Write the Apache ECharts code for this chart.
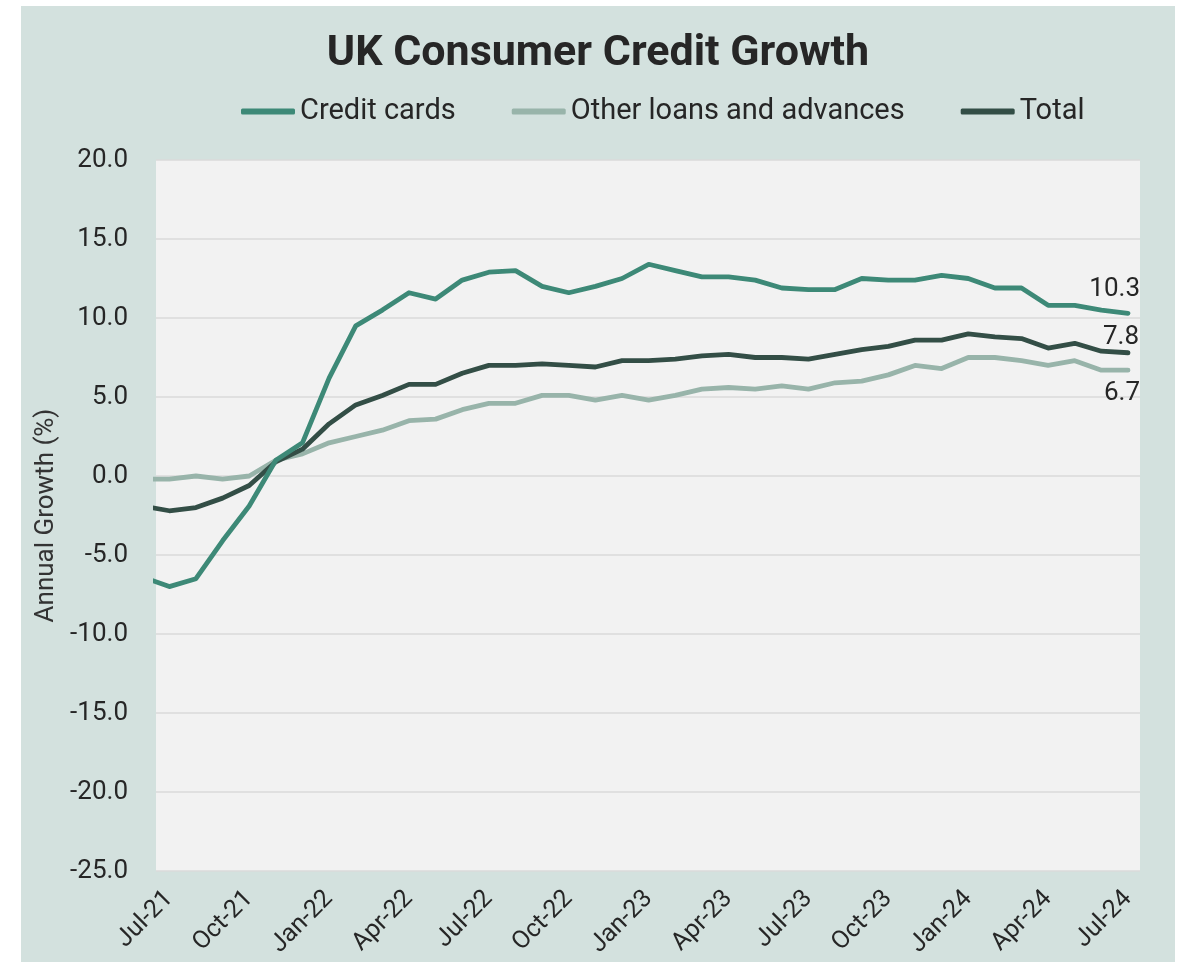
<!DOCTYPE html>
<html>
<head>
<meta charset="utf-8">
<style>
  html, body { margin: 0; padding: 0; background: #ffffff; }
  #panel { position: absolute; left: 21px; top: 6px; width: 1154px; height: 956px; background: #d3e1de; }
  #chart { position: absolute; left: 0; top: 0; width: 1154px; height: 956px; }
</style>
<script src="https://cdn.jsdelivr.net/npm/echarts@6/dist/echarts.min.js"></script>
</head>
<body>
<div id="panel"><div id="chart"></div></div>
<script>
// Monthly annual growth rates (%), Jun-21 to Jul-24
const months = [
  'Jun-21','Jul-21','Aug-21','Sep-21','Oct-21','Nov-21','Dec-21',
  'Jan-22','Feb-22','Mar-22','Apr-22','May-22','Jun-22','Jul-22','Aug-22','Sep-22','Oct-22','Nov-22','Dec-22',
  'Jan-23','Feb-23','Mar-23','Apr-23','May-23','Jun-23','Jul-23','Aug-23','Sep-23','Oct-23','Nov-23','Dec-23',
  'Jan-24','Feb-24','Mar-24','Apr-24','May-24','Jun-24','Jul-24'
];
const creditCards = [
  -6.4, -7.0, -6.5, -4.1, -1.9, 1.0, 2.1,
  6.2, 9.5, 10.5, 11.6, 11.2, 12.4, 12.9, 13.0, 12.0, 11.6, 12.0, 12.5,
  13.4, 13.0, 12.6, 12.6, 12.4, 11.9, 11.8, 11.8, 12.5, 12.4, 12.4, 12.7,
  12.5, 11.9, 11.9, 10.8, 10.8, 10.5, 10.3
];
const otherLoans = [
  -0.2, -0.2, 0.0, -0.2, 0.0, 1.0, 1.4,
  2.1, 2.5, 2.9, 3.5, 3.6, 4.2, 4.6, 4.6, 5.1, 5.1, 4.8, 5.1,
  4.8, 5.1, 5.5, 5.6, 5.5, 5.7, 5.5, 5.9, 6.0, 6.4, 7.0, 6.8,
  7.5, 7.5, 7.3, 7.0, 7.3, 6.7, 6.7
];
const total = [
  -1.9, -2.2, -2.0, -1.4, -0.6, 0.9, 1.7,
  3.3, 4.5, 5.1, 5.8, 5.8, 6.5, 7.0, 7.0, 7.1, 7.0, 6.9, 7.3,
  7.3, 7.4, 7.6, 7.7, 7.5, 7.5, 7.4, 7.7, 8.0, 8.2, 8.6, 8.6,
  9.0, 8.8, 8.7, 8.1, 8.4, 7.9, 7.8
];
const seriesNames = ['Credit cards', 'Other loans and advances', 'Total'];
const yTicks = [-25, -20, -15, -10, -5, 0, 5, 10, 15, 20];

const FONT = 'Roboto, "Noto Sans", sans-serif';
const TEXT = '#262626';
const COLORS = ['#3d8977', '#98b4aa', '#334e46'];

// x position: month offset from Jul-21 (Jun-21 sits just left of the plot and is clipped)
const xOf = i => i - 1;
const labelTicks = months.map((m, i) => xOf(i)).filter(k => k >= 0 && k % 3 === 0);

// the latest value of each series carries its value label
function buildData(values, endLabel) {
  return values.map((v, i) => {
    const item = { value: [xOf(i), v] };
    if (i === values.length - 1) {
      item.label = Object.assign({
        show: true,
        formatter: p => p.value[1].toFixed(1),
        fontFamily: FONT,
        fontSize: 26,
        color: TEXT,
        align: 'right'
      }, endLabel);
    }
    return item;
  });
}

function lineSeries(idx, values, endLabel, z) {
  return {
    name: seriesNames[idx],
    type: 'line',
    data: buildData(values, endLabel),
    symbol: 'circle',
    symbolSize: 1,
    showSymbol: true,
    clip: true,
    z: z,
    itemStyle: { color: COLORS[idx] },
    lineStyle: { color: COLORS[idx], width: 4.8, cap: 'round', join: 'round' },
    emphasis: { disabled: true }
  };
}

const chart = echarts.init(document.getElementById('chart'), null, { renderer: 'canvas' });
chart.setOption({
  animation: false,
  backgroundColor: 'transparent',
  title: {
    text: 'UK Consumer Credit Growth',
    left: 'center',
    top: 22,
    textStyle: { fontFamily: FONT, fontWeight: 'bold', fontSize: 43, color: TEXT }
  },
  legend: {
    data: seriesNames,
    left: 215,
    top: 86,
    icon: 'roundRect',
    itemWidth: 54,
    itemHeight: 6,
    itemGap: 56,
    textStyle: { fontFamily: FONT, fontSize: 29, color: TEXT }
  },
  grid: {
    left: 135,
    right: 35,
    top: 154,
    bottom: 91,
    outerBoundsMode: 'none',
    containLabel: false,
    show: true,
    backgroundColor: '#f2f2f2',
    borderWidth: 0
  },
  xAxis: {
    type: 'value',
    min: -0.5,
    max: 36.45,
    axisLine: { show: false },
    axisTick: { show: false },
    splitLine: { show: false },
    axisLabel: {
      customValues: labelTicks,
      formatter: v => months[v + 1],
      rotate: 45,
      margin: 24,
      fontFamily: FONT,
      fontSize: 25,
      color: TEXT
    }
  },
  yAxis: {
    type: 'value',
    min: yTicks[0],
    max: yTicks[yTicks.length - 1],
    interval: 5,
    name: 'Annual Growth (%)',
    nameLocation: 'middle',
    nameGap: 97,
    nameTextStyle: { fontFamily: FONT, fontSize: 26, color: '#333333' },
    axisLine: { show: false },
    axisTick: { show: false },
    axisLabel: {
      formatter: v => v.toFixed(1),
      margin: 28,
      fontFamily: FONT,
      fontSize: 26,
      color: TEXT
    },
    splitLine: { lineStyle: { color: '#dadada', width: 1.5 } }
  },
  series: [
    lineSeries(0, creditCards, { position: 'top', offset: [12, -5] }, 4),
    lineSeries(1, otherLoans, { position: 'bottom', offset: [12, 5] }, 2),
    lineSeries(2, total, { position: 'top', offset: [11, 3] }, 3)
  ]
});
</script>
</body>
</html>
